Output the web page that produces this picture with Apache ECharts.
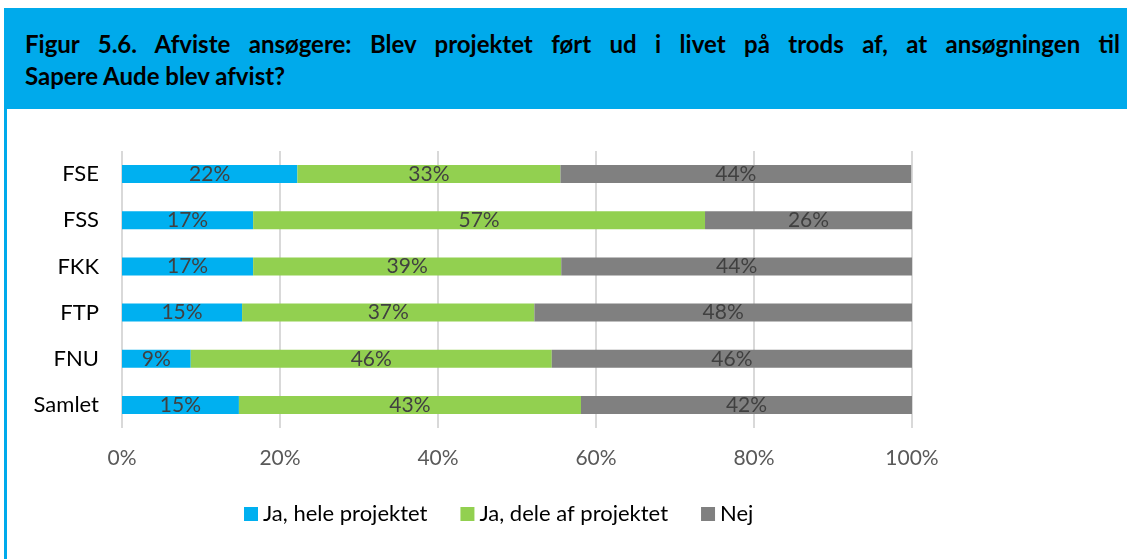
<!DOCTYPE html>
<html>
<head>
<meta charset="utf-8">
<script src="https://cdn.jsdelivr.net/npm/echarts@6/dist/echarts.min.js"></script>
<style>
  html, body { margin: 0; padding: 0; background: #fff; }
  #wrap { position: relative; width: 1127px; height: 559px; overflow: hidden; }
  #head {
    position: absolute; left: 4px; top: 8px; width: 1123px; height: 101px;
    background: #00AAEB;
  }
  #title {
    position: absolute; left: 25px; top: 28px; width: 1095px;
    font-family: Lato, "Open Sans", sans-serif; font-weight: bold; font-size: 24px;
    line-height: 32px; color: #000;
  }
  #title .l1 { text-align: justify; text-align-last: justify; white-space: nowrap; }
  #side { position: absolute; left: 4px; top: 109px; width: 3px; height: 450px; background: #00AAEB; }
  #chart { position: absolute; left: 0; top: 0; width: 1127px; height: 559px; }
</style>
</head>
<body>
<div id="wrap">
  <div id="head"></div>
  <div id="side"></div>
  <div id="title">
    <div class="l1">Figur 5.6. Afviste ansøgere: Blev projektet ført ud i livet på trods af, at ansøgningen til</div>
    <div>Sapere Aude blev afvist?</div>
  </div>
  <div id="chart"></div>
</div>
<script>
// data (percent)
var categories = ['FSE', 'FSS', 'FKK', 'FTP', 'FNU', 'Samlet'];
var seriesNames = ['Ja, hele projektet', 'Ja, dele af projektet', 'Nej'];
var jaHele = [22.2, 16.6, 16.6, 15.2, 8.7, 14.8];
var jaDele = [33.3, 57.2, 39.0, 37.0, 45.7, 43.3];
var nej = [44.4, 26.2, 44.4, 47.8, 45.6, 41.9];
var xTicks = [0, 20, 40, 60, 80, 100];

var colors = ['#00B0F0', '#92D050', '#808080'];
var font = 'Lato, "Open Sans", sans-serif';

function makeSeries(name, data, color) {
  return {
    name: name,
    type: 'bar',
    stack: 'total',
    data: data,
    barWidth: 18,
    itemStyle: { color: color },
    label: {
      show: true,
      position: 'inside',
      color: '#404040',
      fontFamily: font,
      fontSize: 21,
      formatter: function (p) { return Math.round(p.value) + '%'; }
    }
  };
}

var chart = echarts.init(document.getElementById('chart'));
chart.setOption({
  animation: false,
  grid: { left: 122, right: 215, top: 151, bottom: 131, containLabel: false },
  legend: {
    left: 239,
    top: 498,
    itemWidth: 14,
    itemHeight: 14,
    itemGap: 33,
    icon: 'rect',
    textStyle: { color: '#000', fontFamily: font, fontSize: 22 },
    data: seriesNames
  },
  xAxis: {
    type: 'value',
    min: 0,
    max: 100,
    interval: 20,
    axisLine: { show: false },
    axisTick: { show: false },
    splitLine: { lineStyle: { color: '#D9D9D9', width: 2 } },
    axisLabel: {
      margin: 20,
      color: '#595959',
      fontFamily: font,
      fontSize: 21,
      formatter: function (v) { return xTicks.indexOf(v) >= 0 ? v + '%' : ''; }
    }
  },
  yAxis: {
    type: 'category',
    inverse: true,
    data: categories,
    axisLine: { show: false },
    axisTick: { show: false },
    axisLabel: { margin: 23, color: '#000', fontFamily: font, fontSize: 22 }
  },
  series: [
    makeSeries(seriesNames[0], jaHele, colors[0]),
    makeSeries(seriesNames[1], jaDele, colors[1]),
    makeSeries(seriesNames[2], nej, colors[2])
  ]
});
</script>
</body>
</html>
